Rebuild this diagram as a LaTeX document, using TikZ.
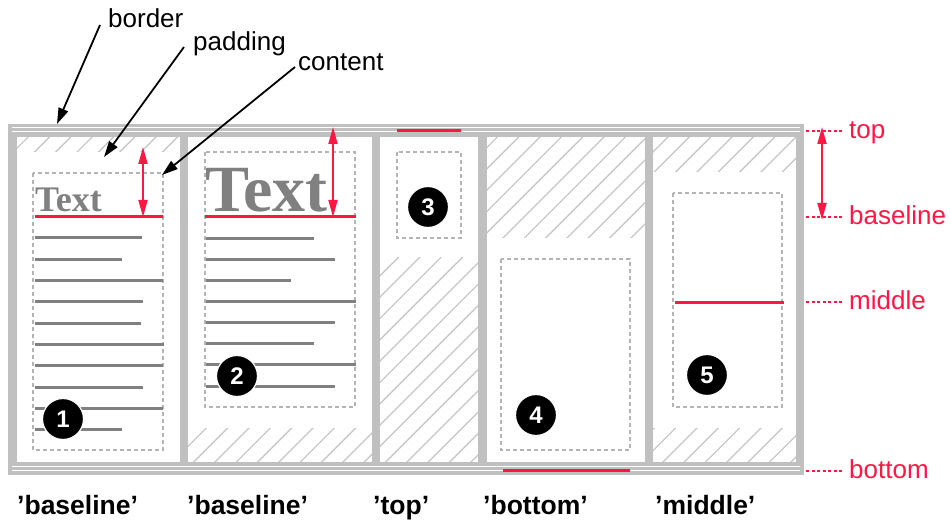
\documentclass[tikz,border=0pt]{standalone}
\usepackage{fontspec}
\setmainfont{Liberation Sans}
\newfontfamily\serifb{Liberation Serif}
\usetikzlibrary{arrows.meta}
\definecolor{bgray}{RGB}{192,192,192}
\definecolor{hgray}{RGB}{196,196,196}
\definecolor{dgray}{RGB}{180,180,180}
\definecolor{tgray}{RGB}{128,128,128}
\definecolor{cred}{RGB}{255,23,68}
\tikzset{
  hatchline/.style={hgray, line width=1.2pt},
  contentbox/.style={dgray, line width=1.2pt, dash pattern=on 4pt off 3pt},
  redline/.style={cred, line width=3pt},
  grayline/.style={tgray, line width=3pt},
  redarrow/.style={cred, line width=1.8pt, {Triangle[length=17pt,width=9pt]}-{Triangle[length=17pt,width=9pt]}},
  blackarrow/.style={black, line width=1.8pt, -{Triangle[length=16pt,width=10pt]}},
  reddot/.style={cred, line width=1.5pt, dash pattern=on 3pt off 2.5pt},
  numc/.style={circle, fill=black, draw=white, line width=1.2pt, minimum size=41pt, inner sep=0pt, text=white, font=\bfseries\fontsize{24}{24}\selectfont},
  toplabel/.style={anchor=base west, inner sep=0pt, font=\fontsize{26}{30}\selectfont},
  redlabel/.style={anchor=base west, inner sep=0pt, text=cred, font=\fontsize{26}{30}\selectfont},
  botlabel/.style={anchor=base west, inner sep=0pt, font=\bfseries\fontsize{26.5}{30}\selectfont},
  bigtext/.style={anchor=base west, inner sep=0pt, text=tgray}
}
\newcommand{\hatchbox}[4]{%
  \begin{scope}
    \clip (#1,#2) rectangle (#3,#4);
    \foreach \c in {15.8,37.13,...,1400} \draw[hatchline] (\c,0) -- ++(-700,700);
  \end{scope}}
\begin{document}
\begin{tikzpicture}[x=1pt,y=-1pt]
\useasboundingbox[fill=white] (0,0) rectangle (950,521);

% hatched (unused) padding areas
\hatchbox{17}{137}{180}{152}
\hatchbox{188}{428}{372}{462}
\hatchbox{380}{258}{478}{462}
\hatchbox{487}{137}{645}{238}
\hatchbox{653}{137}{796}{172}
\hatchbox{653}{428}{796}{462}

% borders
\fill[bgray] (8,124) rectangle (804,137);
\fill[bgray] (8,462) rectangle (804,475);
\foreach \a/\b in {8/17,180/188,372/380,478/487,645/653,796/804}
  \fill[bgray] (\a,124) rectangle (\b,475);
\draw[white, line width=1.2pt] (12,127.6) -- (800,127.6) (12,131.6) -- (800,131.6)
  (12,466.3) -- (800,466.3) (12,470.6) -- (800,470.6);

% content boxes
\draw[contentbox] (33,173) rectangle (163,450);
\draw[contentbox] (205,152) rectangle (355,407);
\draw[contentbox] (397,152) rectangle (461,238);
\draw[contentbox] (501,259) rectangle (630,450);
\draw[contentbox] (673,193) rectangle (782,407);

% text lines cell 1
\foreach \k/\e in {0/142,1/122,2/163,3/143,4/141,5/164,6/163,7/143,8/163,9/122}
  \draw[grayline] (35,237.7+21.33*\k) -- (\e,237.7+21.33*\k);
% text lines cell 2
\foreach \k/\e in {0/314,1/335,2/291,3/356,4/335,5/314,6/356,7/335}
  \draw[grayline] (206,238.3+21.1*\k) -- (\e,238.3+21.1*\k);

% big texts
\node[bigtext, font=\serifb\bfseries\fontsize{36}{36}\selectfont] (t1) at (35,212) {Text};
\node[bigtext, font=\serifb\bfseries\fontsize{66}{66}\selectfont] (t2) at (205,212) {Text};

% red alignment lines
\draw[redline] (35,217) -- (163,217);
\draw[redline] (205,217) -- (356,217);
\draw[redline] (397,131) -- (461,131);
\draw[redline] (503,470) -- (630,470);
\draw[redline] (675,302) -- (784,302);

% red arrows
\coordinate (a1t) at (143,147); \coordinate (a1b) at (143,217);
\coordinate (a2t) at (333,127); \coordinate (a2b) at (333,217);
\coordinate (a3t) at (822,127); \coordinate (a3b) at (822,220);
\draw[redarrow] (a1t) -- (a1b);
\draw[redarrow] (a2t) -- (a2b);
\draw[redarrow] (a3t) -- (a3b);

% right labels
\coordinate (dtop0) at (806,131); \coordinate (dtop1) at (843,131);
\coordinate (dbas0) at (806,217); \coordinate (dbas1) at (843,217);
\coordinate (dmid0) at (806,302); \coordinate (dmid1) at (843,302);
\coordinate (dbot0) at (806,471); \coordinate (dbot1) at (843,471);
\draw[reddot] (dtop0) -- (dtop1);
\draw[reddot] (dbas0) -- (dbas1);
\draw[reddot] (dmid0) -- (dmid1);
\draw[reddot] (dbot0) -- (dbot1);
\node[redlabel] (ltop) at (849,138.7) {top};
\node[redlabel] (lbas) at (849,224.7) {baseline};
\node[redlabel] (lmid) at (849,309.7) {middle};
\node[redlabel] (lbot) at (849,478.7) {bottom};

% number circles
\node[numc] (n1) at (63,419) {1};
\node[numc] (n2) at (237,376) {2};
\node[numc] (n3) at (428,207) {3};
\node[numc] (n4) at (536,415) {4};
\node[numc] (n5) at (707,375) {5};

% top labels with arrows
\node[toplabel] (lborder) at (108,28) {border};
\node[toplabel] (lpadding) at (193,51) {padding};
\node[toplabel] (lcontent) at (298,70.5) {content};
\coordinate (sborder) at (100,25);  \coordinate (eborder) at (57,124);
\coordinate (spadding) at (184,47); \coordinate (epadding) at (104,157);
\coordinate (scontent) at (295,67); \coordinate (econtent) at (162,175);
\draw[blackarrow] (sborder) -- (eborder);
\draw[blackarrow] (spadding) -- (epadding);
\draw[blackarrow] (scontent) -- (econtent);

% bottom labels
\node[botlabel] (b1) at (17,514) {’baseline’};
\node[botlabel] (b2) at (187,514) {’baseline’};
\node[botlabel] (b3) at (373,514) {’top’};
\node[botlabel] (b4) at (483,514) {’bottom’};
\node[botlabel] (b5) at (655,514) {’middle’};
\end{tikzpicture}
\end{document}
